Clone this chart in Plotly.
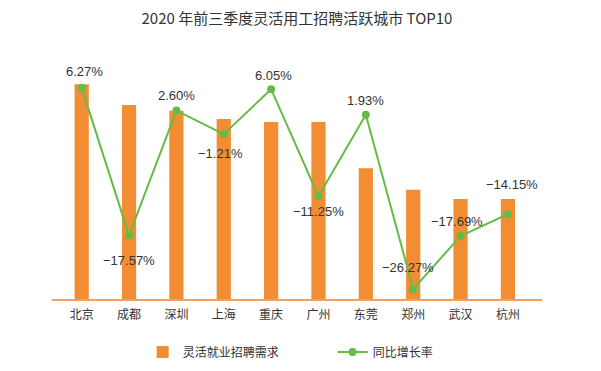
import plotly.graph_objects as go

cities = ["北京", "成都", "深圳", "上海", "重庆", "广州", "东莞", "郑州", "武汉", "杭州"]
demand_index = [100, 90.4, 87.7, 83.8, 82.4, 82.4, 60.9, 50.9, 46.6, 46.6]
yoy_growth = [6.27, -17.57, 2.60, -1.21, 6.05, -11.25, 1.93, -26.27, -17.69, -14.15]
growth_labels = ["6.27%", "−17.57%", "2.60%", "−1.21%", "6.05%", "−11.25%",
                 "1.93%", "−26.27%", "−17.69%", "−14.15%"]
label_dy = [16, -25, 15, -19, 14, -15, 14, 22, 15, 30]
label_dx = [3, 0, 0, -3, 2, 0, 0, -5, -4, 4]

ORANGE = "#F38D33"
GREEN = "#66BB47"
TXT = "#333333"
FONT = "Liberation Sans, Arial, Noto Sans CJK SC, sans-serif"
CJK = "Noto Sans CJK SC, sans-serif"

# page body has an 8px margin; figure sized so it fits the window
W, H = 593, 363

fig = go.Figure()
fig.add_trace(go.Bar(
    x=list(range(len(cities))), y=demand_index, name="灵活就业招聘需求",
    marker=dict(color=ORANGE, line=dict(width=0)), width=0.3,
    hoverinfo="skip",
))
fig.add_trace(go.Scatter(
    x=list(range(len(cities))), y=yoy_growth, name="同比增长率", yaxis="y2",
    mode="lines+markers", line=dict(color=GREEN, width=2),
    marker=dict(color=GREEN, size=8), hoverinfo="skip",
))

for i, (v, t) in enumerate(zip(yoy_growth, growth_labels)):
    fig.add_annotation(x=i, y=v, yref="y2", text=t, showarrow=False,
                       xshift=label_dx[i], yshift=label_dy[i],
                       font=dict(family=FONT, size=13, color=TXT))

fig.update_layout(
    width=W, height=H,
    margin=dict(l=44, r=59, t=70, b=72, autoexpand=False),
    paper_bgcolor="white", plot_bgcolor="white",
    font=dict(family=FONT, color=TXT),
    title=dict(text="2020 年前三季度灵活用工招聘活跃城市 TOP10",
               x=0.5, xanchor="center", y=1 - 11 / H, yanchor="middle",
               xref="paper", font=dict(size=15, color=TXT, family=CJK)),
    xaxis=dict(range=[-0.627, 9.72], tickmode="array",
               tickvals=list(range(len(cities))), ticktext=cities,
               showgrid=False, zeroline=False, showline=True,
               linecolor="#F5A05A", linewidth=2, ticks="", automargin=False,
               ticklabelstandoff=4,
               tickfont=dict(size=12, color=TXT, family=CJK)),
    yaxis=dict(range=[0, 102.94], visible=False, showgrid=False, zeroline=False,
               automargin=False),
    yaxis2=dict(range=[-27.86, 7.86], overlaying="y", side="right",
                visible=False, showgrid=False, zeroline=False, automargin=False),
    showlegend=True,
    legend=dict(orientation="h", x=0.185, xanchor="left",
                y=1 - 344 / H, yref="container", yanchor="middle",
                font=dict(size=12, color=TXT, family=CJK),
                entrywidth=145, entrywidthmode="pixels", bgcolor="rgba(0,0,0,0)"),
    bargap=0.7,
)

fig.write_html("out.html")
